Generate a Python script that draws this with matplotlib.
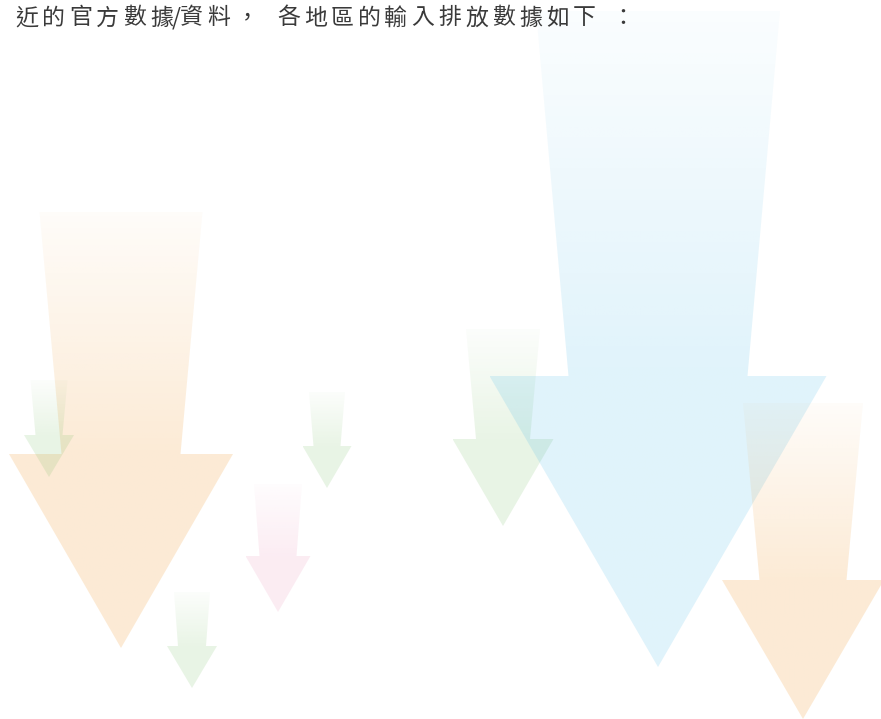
import numpy as np
import matplotlib
matplotlib.use('Agg')
import matplotlib.pyplot as plt
from matplotlib.patches import Polygon

plt.rcParams['font.family'] = ['Noto Sans CJK TC', 'DejaVu Sans']

## heading text
title = "近的官方數據/資料，各地區的輸入排放數據如下："

## arrows (pixel units): center x, shaft top y, head base y, tip y, shaft half widths, head half width
arrow_cx   = [121, 49, 192, 278, 327, 503, 658, 803]
arrow_top  = [212, 380, 592, 484, 392, 329, 11, 403]
arrow_hb   = [454, 435, 646, 556, 446, 439, 376, 580]
arrow_tip  = [648, 477, 688, 612, 488, 526, 667, 719]
arrow_sth  = [81.5, 18.5, 18, 24, 18, 37, 122, 60]
arrow_sbh  = [59.5, 13.5, 14, 18.5, 13.5, 27, 89.5, 43.5]
arrow_hh   = [112, 25, 25, 32.5, 24.5, 50.5, 168.5, 81]
arrow_col  = ['orange', 'green', 'green', 'pink', 'green', 'green', 'blue', 'orange']

base_rgb = {'orange': (240, 150, 40), 'green': (120, 190, 100),
            'blue': (60, 180, 230), 'pink': (230, 110, 160)}
base_alpha = {'orange': 0.195, 'green': 0.165, 'blue': 0.16, 'pink': 0.13}

fig = plt.figure(figsize=(8.81, 7.19), dpi=100)
ax = fig.add_axes([0, 0, 1, 1])
ax.set_xlim(0, 881)
ax.set_ylim(719, 0)
ax.axis('off')

for cx, top, hb, tip, sth, sbh, hh, col in zip(arrow_cx, arrow_top, arrow_hb, arrow_tip,
                                              arrow_sth, arrow_sbh, arrow_hh, arrow_col):
    pts = [(cx - sth, top), (cx + sth, top), (cx + sbh, hb), (cx + hh, hb),
           (cx, tip), (cx - hh, hb), (cx - sbh, hb)]
    poly = Polygon(pts, closed=True, facecolor='none', edgecolor='none')
    ax.add_patch(poly)
    # vertical gradient: pale at the top of the shaft, full at the head
    ys = np.linspace(top, tip, 200)
    a1 = base_alpha[col]
    alpha = np.where(ys < hb, a1 * (0.15 + 0.85 * (ys - top) / (hb - top)), a1)
    img = np.zeros((200, 2, 4))
    img[:, :, :3] = np.array(base_rgb[col]) / 255.0
    img[:, :, 3] = alpha[:, None]
    im = ax.imshow(img, extent=[cx - hh, cx + hh, tip, top], aspect='auto',
                   interpolation='bilinear', zorder=2)
    im.set_clip_path(poly)

ax.set_xlim(0, 881)
ax.set_ylim(719, 0)

# heading, placed character by character to mimic the letter spacing
x = 15.5
for i, ch in enumerate(title):
    nxt = title[i + 1] if i + 1 < len(title) else ''
    if ch == '：':
        x += 12
    ax.text(x, 18, ch, fontsize=16.5, color='#3a3a3a', va='center', ha='left', zorder=5)
    if nxt == '/':
        x += 22
    elif ch == '/':
        x += 8
    elif nxt == '，':
        x += 29
    elif ch == '，':
        x += 41
    else:
        x += 26.9

fig.savefig('out.png', dpi=100)
